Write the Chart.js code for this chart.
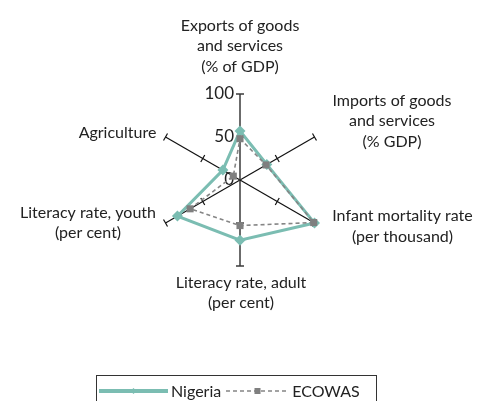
<!DOCTYPE html>
<html>
<head>
<meta charset="utf-8">
<script src="https://cdn.jsdelivr.net/npm/chart.js@4"></script>
<style>
html,body{margin:0;padding:0;background:#fff;width:480px;height:401px;overflow:hidden;font-family:Lato,"Open Sans",sans-serif;}
#wrap{position:relative;width:480px;height:401px;}
#c{position:absolute;left:0;top:0;}
#legend{position:absolute;left:96px;top:375px;width:281px;height:32px;border:1px solid #333;box-sizing:border-box;display:flex;align-items:flex-start;padding-left:2px;}
#legend .item{display:flex;align-items:center;height:16px;margin-top:7px;font-size:16px;line-height:16px;color:#222;}
#legend canvas{display:block;}
</style>
</head>
<body>
<div id="wrap">
<canvas id="c" width="480" height="401"></canvas>
<div id="legend"></div>
</div>
<script>
// ---- data ----
const categories = [
  ["Exports of goods", "and services", "(% of GDP)"],
  ["Imports of goods", "and services", "(% GDP)"],
  ["Infant mortality rate", "(per thousand)"],
  ["Literacy rate, adult", "(per cent)"],
  ["Literacy rate, youth", "(per cent)"],
  ["Agriculture"]
];
const nigeria = [57, 36, 100, 70, 84, 23];
const ecowas = [48, 35, 99, 53, 67, 9];
const seriesNames = ["Nigeria", "ECOWAS"];
const tickValues = [0, 50, 100];
const tickLabels = ["0", "50", "100"];

// ---- layout / styles ----
const TEXT = '#222';
const FONT = '16px Lato, "Open Sans", sans-serif';
const labelOffsets = [[0,-48],[77.5,-16],[88,3.5],[1,27],[-77.5,0],[-48,-4]];
const lineH = 20.5;

const axisDecor = {
  id: 'axisDecor',
  beforeDatasetsDraw(chart) {
    const s = chart.scales.r, ctx = chart.ctx;
    ctx.save();
    const n = chart.data.labels.length;
    for (let i = 0; i < n; i++) {
      const a = s.getIndexAngle(i) - Math.PI / 2;
      const px = -Math.sin(a), py = Math.cos(a);
      const vertical = (i === 0 || i === 3);
      ctx.strokeStyle = vertical ? '#3a3a3a' : '#111';
      ctx.lineWidth = vertical ? 1.5 : 1.2;
      for (const v of tickValues) {
        if (v === 0) continue;
        const p = s.getPointPositionForValue(i, v);
        ctx.beginPath();
        ctx.moveTo(p.x - px * 4, p.y - py * 4);
        ctx.lineTo(p.x + px * 4, p.y + py * 4);
        ctx.stroke();
      }
    }
    ctx.fillStyle = TEXT;
    ctx.font = '17px Lato, "Open Sans", sans-serif';
    ctx.textAlign = 'right';
    ctx.textBaseline = 'middle';
    tickValues.forEach((v, k) => {
      const p = s.getPointPositionForValue(0, v);
      ctx.fillText(tickLabels[k], p.x - 6, p.y);
    });
    ctx.restore();
  },
  afterDraw(chart) {
    const s = chart.scales.r, ctx = chart.ctx;
    ctx.save();
    ctx.fillStyle = TEXT;
    ctx.font = FONT;
    ctx.textAlign = 'center';
    ctx.textBaseline = 'middle';
    chart.data.labels.forEach((lab, i) => {
      const e = s.getPointPositionForValue(i, s.max);
      const cx = e.x + labelOffsets[i][0];
      const cy = e.y + labelOffsets[i][1];
      const lines = Array.isArray(lab) ? lab : [lab];
      const top = cy - (lines.length - 1) * lineH / 2;
      lines.forEach((t, j) => ctx.fillText(t, cx, top + j * lineH));
    });
    ctx.restore();
  }
};

const chart = new Chart(document.getElementById('c'), {
  type: 'radar',
  data: {
    labels: categories,
    datasets: [
      {
        label: seriesNames[0], data: nigeria, order: 2,
        borderColor: '#7bbdb2', backgroundColor: '#7bbdb2', borderWidth: 3,
        pointStyle: 'rectRot', pointRadius: 5.5, pointBorderWidth: 0,
        pointBackgroundColor: '#7bbdb2', fill: false, clip: false
      },
      {
        label: seriesNames[1], data: ecowas, order: 1,
        borderColor: '#858585', backgroundColor: '#7f7f7f', borderWidth: 1.6,
        borderDash: [4, 3], pointStyle: 'rect', pointRadius: 5, pointBorderWidth: 0,
        pointBackgroundColor: '#7f7f7f', fill: false, clip: false
      }
    ]
  },
  options: {
    responsive: false,
    animation: false,
    devicePixelRatio: 1,
    layout: { padding: { left: 154, right: 154, top: 94, bottom: 135 } },
    plugins: { legend: { display: false }, tooltip: { enabled: false } },
    elements: { line: { tension: 0 } },
    scales: {
      r: {
        min: 0, max: 100,
        ticks: { display: false, stepSize: 50 },
        grid: { display: false },
        pointLabels: { display: false },
        angleLines: {
          display: true,
          color: ctx => (ctx.index === 0 || ctx.index === 3) ? '#3a3a3a' : '#111',
          lineWidth: ctx => (ctx.index === 0 || ctx.index === 3) ? 1.5 : 1.2
        }
      }
    }
  },
  plugins: [axisDecor]
});

// ---- HTML legend built from the datasets ----
const legend = document.getElementById('legend');
const sampleWidths = [69, 63];
const gapsAfterText = [5, 0];
chart.data.datasets.forEach((ds, k) => {
  const item = document.createElement('div');
  item.className = 'item';
  const cv = document.createElement('canvas');
  cv.width = sampleWidths[k]; cv.height = 14;
  const g = cv.getContext('2d');
  g.strokeStyle = ds.borderColor;
  g.lineWidth = k === 0 ? 4 : 1.5;
  g.setLineDash(ds.borderDash || []);
  g.beginPath(); g.moveTo(0, 7); g.lineTo(cv.width, 7); g.stroke();
  g.setLineDash([]);
  g.fillStyle = ds.pointBackgroundColor;
  const mx = cv.width / 2;
  if (ds.pointStyle === 'rectRot') {
    g.beginPath(); g.moveTo(mx, 4); g.lineTo(mx + 3, 7); g.lineTo(mx, 10); g.lineTo(mx - 3, 7); g.closePath(); g.fill();
  } else {
    g.fillRect(mx - 3, 4, 6, 6);
  }
  const txt = document.createElement('span');
  txt.textContent = ds.label;
  txt.style.marginLeft = '3px';
  txt.style.marginRight = gapsAfterText[k] + 'px';
  item.appendChild(cv); item.appendChild(txt);
  legend.appendChild(item);
});
</script>
</body>
</html>
